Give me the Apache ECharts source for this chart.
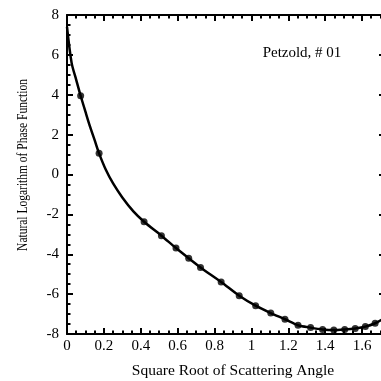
<!DOCTYPE html>
<html>
<head>
<meta charset="utf-8">
<script src="https://cdn.jsdelivr.net/npm/echarts@6/dist/echarts.min.js"></script>
<style>
  html, body { margin: 0; padding: 0; background: #fff; }
  #chart { width: 381px; height: 381px; }
</style>
</head>
<body>
<div id="chart"></div>
<script>
// sqrt of scattering angle (radians) for the marked points
const dotX = [0.074, 0.174, 0.418, 0.512, 0.591, 0.660, 0.724, 0.836, 0.934, 1.023,
              1.105, 1.182, 1.253, 1.321, 1.386, 1.447, 1.506, 1.563, 1.618, 1.671, 1.7225];
const dotY = [3.95, 1.06, -2.37, -3.07, -3.69, -4.2, -4.66, -5.39, -6.08, -6.58,
              -6.95, -7.26, -7.56, -7.68, -7.77, -7.8, -7.77, -7.72, -7.63, -7.46, -7.2];
// extra points along the unmarked part of the curve
const curveX = [0, 0.025, 0.05, 0.1, 0.125, 0.15, 0.21, 0.25, 0.3, 0.36];
const curveY = [7.4, 5.6, 4.75, 3.15, 2.4, 1.72, 0.25, -0.45, -1.15, -1.85];
const yTicks = [-8, 8, 2];
const xTicks = [0, 1.73, 0.2];

const dots = dotX.map((x, i) => [x, dotY[i]]);
const curve = curveX.map((x, i) => [x, curveY[i]]).concat(dots)
  .sort((a, b) => a[0] - b[0]);

const font = 'Liberation Serif';
const tickIn = {
  axisLine: { show: true, onZero: false, lineStyle: { color: '#000', width: 2 } },
  axisTick: { show: true, inside: true, length: 6, lineStyle: { color: '#000', width: 2 } },
  minorTick: { show: true, splitNumber: 4, length: 3.5, lineStyle: { color: '#000', width: 2 } },
  splitLine: { show: false }
};

const chart = echarts.init(document.getElementById('chart'));
chart.setOption({
  animation: false,
  // the figure is cropped on the right, so the frame runs past the canvas
  grid: { left: 67, top: 15, right: -5, bottom: 47, outerBoundsMode: 'none' },
  xAxis: [
    Object.assign({
      type: 'value', position: 'bottom',
      min: xTicks[0], max: xTicks[1], interval: xTicks[2],
      axisLabel: { color: '#000', fontFamily: font, fontSize: 15, margin: 5, showMaxLabel: false }
    }, tickIn),
    Object.assign({
      type: 'value', position: 'top',
      min: xTicks[0], max: xTicks[1], interval: xTicks[2],
      axisLabel: { show: false }
    }, tickIn)
  ],
  yAxis: [
    Object.assign({
      type: 'value', position: 'left',
      min: yTicks[0], max: yTicks[1], interval: yTicks[2],
      axisLabel: { color: '#000', fontFamily: font, fontSize: 15, margin: 8 }
    }, tickIn),
    Object.assign({}, tickIn, {
      type: 'value', position: 'right',
      min: yTicks[0], max: yTicks[1], interval: yTicks[2],
      axisLabel: { show: false },
      axisLine: { show: true, onZero: false, lineStyle: { color: '#000', width: 2 } },
      axisTick: { show: true, inside: true, length: 7, lineStyle: { color: '#000', width: 2 } },
      minorTick: { show: false }
    })
  ],
  graphic: [
    { type: 'text', x: 233, y: 371,
      style: { text: 'Square Root of Scattering Angle', font: '15.5px "Liberation Serif"',
               fill: '#000', align: 'center', verticalAlign: 'middle' } },
    { type: 'text', x: 23, y: 165, rotation: Math.PI / 2, scaleY: 1.2,
      style: { text: 'Natural Logarithm of Phase Function', font: '11.5px "Liberation Serif"',
               fill: '#000', align: 'center', verticalAlign: 'middle' } },
    { type: 'text', x: 302, y: 53,
      style: { text: 'Petzold, # 01', font: '15px "Liberation Serif"',
               fill: '#000', align: 'center', verticalAlign: 'middle' } }
  ],
  series: [
    {
      name: 'curve', type: 'line', data: curve,
      smooth: 0.3, showSymbol: false, symbol: 'none',
      lineStyle: { color: '#000', width: 2.5 }
    },
    {
      name: 'Petzold', type: 'scatter', data: dots,
      symbol: 'circle', symbolSize: 7, itemStyle: { color: '#000' }
    }
  ]
});
</script>
</body>
</html>
